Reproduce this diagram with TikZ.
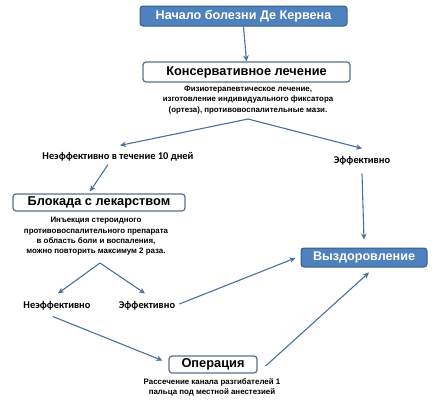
\documentclass[tikz,border=0pt]{standalone}
\usepackage{fontspec}
\setmainfont{Liberation Sans}
\newfontfamily\labfont{Carlito}
\usetikzlibrary{arrows.meta,calc}
\definecolor{boxblue}{HTML}{4F81BD}
\definecolor{boxedge}{HTML}{385D8A}
\definecolor{lineblue}{HTML}{4A6FA0}
\definecolor{grayedge}{HTML}{5A6F8C}
\tikzset{
  bluebox/.style={draw=boxedge, fill=boxblue, rounded corners=3pt, line width=1pt,
    text=white, font=\bfseries\fontsize{12.6}{14}\selectfont, inner sep=0pt},
  whitebox/.style={draw=grayedge, fill=white, rounded corners=3pt, line width=1.2pt,
    text=black, font=\bfseries\fontsize{12.8}{14}\selectfont, inner sep=0pt},
  desc/.style={align=center, font=\bfseries\fontsize{7.9}{10.3}\selectfont, inner sep=0pt},
  lab/.style={font=\labfont\bfseries\fontsize{10.4}{11}\selectfont, inner sep=0pt},
  conn/.style={draw=lineblue, line width=1.1pt, -{Stealth[length=6pt,width=5.5pt]}},
  plain/.style={draw=lineblue, line width=1.1pt}
}
\begin{document}
\begin{tikzpicture}[x=1pt,y=-1pt]
\useasboundingbox (0,0) rectangle (440,400);
\node[bluebox, minimum width=207pt, minimum height=20pt] (start) at (243.5,16) {Начало болезни Де Кервена};
\node[whitebox, minimum width=207pt, minimum height=20pt] (cons) at (246.5,72) {Консервативное лечение};
\node[desc] (consdesc) at (248,100) {Физиотерапевтическое лечение,\\изготовление индивидуального фиксатора\\(ортеза), противовоспалительные мази.};
\coordinate (apex1) at (248,119);
\node[lab] (neff1) at (118,157) {Неэффективно в течение 10 дней};
\node[lab] (eff1) at (362,161) {Эффективно};
\node[whitebox, minimum width=172pt, minimum height=17pt] (blok) at (99,202.5) {Блокада с лекарством};
\node[desc] (blokdesc) at (96,236.5) {Инъекция стероидного\\противовоспалительного препарата\\в область боли и воспаления,\\можно повторить максимум 2 раза.};
\coordinate (apex2) at (100,263);
\node[lab] (neff2) at (57,306) {Неэффективно};
\node[lab] (eff2) at (147,306) {Эффективно};
\node[bluebox, minimum width=126pt, minimum height=19pt] (vyz) at (364,257.5) {Выздоровление};
\node[whitebox, minimum width=88pt, minimum height=17pt] (oper) at (213,364.5) {Операция};
\node[desc] (operdesc) at (212,387) {Рассечение канала разгибателей 1\\пальца под местной анестезией};

\draw[conn] (start.south) -- (cons.north);
\draw[conn] (apex1) -- ($(neff1.north)+(2,-7)$);
\draw[conn] (apex1) -- ($(eff1.north)+(0,-8)$);
\draw[conn] ($(neff1.south)+(-10,3)$) -- ($(blok.north)+(-9,-2)$);
\draw[conn] ($(eff1.south)+(0,8)$) -- ($(vyz.north)+(0,-8)$);
\draw[conn] (apex2) -- ($(neff2.north)+(1,-8)$);
\draw[conn] (apex2) -- ($(eff2.north)+(-2,-8)$);
\draw[conn] ($(eff2.east)+(4,-2)$) -- ($(vyz.west)+(-5,0.5)$);
\draw[conn] ($(neff2.south)+(-4,6)$) -- ($(oper.west)+(-6,-4)$);
\draw[conn] ($(oper.east)+(8,1.5)$) -- ($(vyz.south)+(5,5)$);
\end{tikzpicture}
\end{document}
